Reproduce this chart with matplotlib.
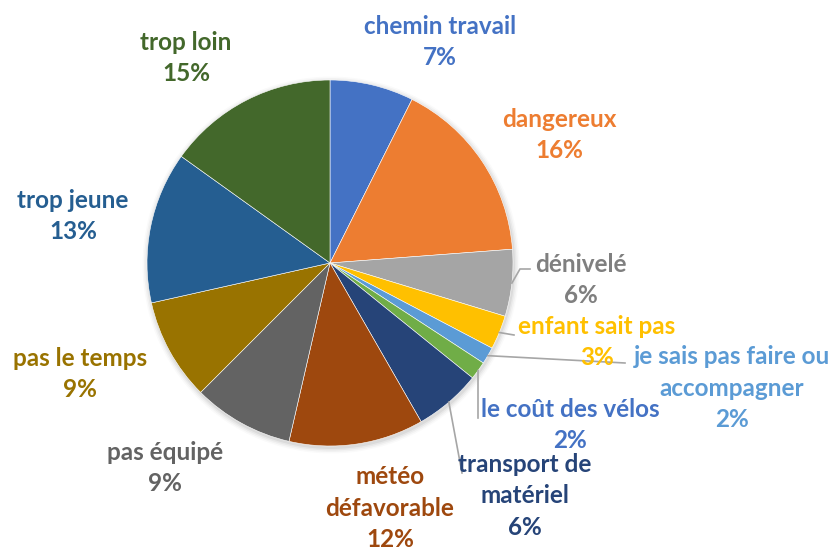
import numpy as np
import matplotlib.pyplot as plt
from matplotlib.patches import Circle

# data
labels = ['chemin travail', 'dangereux', 'dénivelé', 'enfant sait pas',
          'je sais pas faire ou\naccompagner', 'le coût des vélos',
          'transport de\nmatériel', 'météo\ndéfavorable', 'pas équipé',
          'pas le temps', 'trop jeune', 'trop loin']
values = [7.4, 16.4, 5.9, 3.0, 1.5, 1.6, 5.9, 11.9, 8.9, 9.0, 13.4, 15.1]
colors = ['#4472C4', '#ED7D31', '#A5A5A5', '#FFC000', '#5B9BD5', '#70AD47',
          '#264478', '#9E480E', '#636363', '#997300', '#255E91', '#43682B']
text_colors = ['#4472C4', '#ED7D31', '#7F7F7F', '#FFC000', '#5B9BD5', '#4472C4',
               '#264478', '#9E480E', '#636363', '#997300', '#255E91', '#43682B']

# layout in pixels measured from top-left
W, H = 837, 547
cx, cy, r = 330, 263, 183
label_pos = [(440, 42), (559, 135), (581, 280), (597, 342), (732, 388),
             (570, 425), (525, 496), (390, 508), (165, 468), (80, 374),
             (73, 216), (186, 58)]
# leader line points after the wedge edge (None = no line)
leaders = [None, None, [(520, 269), (530, 269)], [(514, 335)],
           [(625, 363)], [(478, 372), (478, 418)], [(462, 473)], None, None,
           None, None, None]

plt.rcParams['font.family'] = ['Lato', 'DejaVu Sans']

fig = plt.figure(figsize=(8.37, 5.47), dpi=100)
ax = fig.add_axes([0, 0, 1, 1])


def py(y):
    # flip pixel y to data y
    return H - y


# soft shadow
for i, a in enumerate([0.05, 0.04, 0.03, 0.02]):
    ax.add_patch(Circle((cx + 1, py(cy) - 2), r + 1 + i * 1.5, color='black',
                        alpha=a, lw=0, zorder=0))

wedges, _ = ax.pie(values, colors=colors, startangle=90, counterclock=False,
                   radius=r, center=(cx, py(cy)), frame=True,
                   wedgeprops=dict(edgecolor='white', linewidth=0.4))
ax.set_xlim(0, W)
ax.set_ylim(0, H)
ax.set_aspect('equal')
ax.axis('off')

total = sum(values)
for i, (lab, v) in enumerate(zip(labels, values)):
    x, y = label_pos[i]
    ax.text(x, py(y), f'{lab}\n{v / total * 100:.0f}%', ha='center', va='center',
            fontsize=17.5, fontweight='bold', color=text_colors[i],
            linespacing=1.45, zorder=5)
    if leaders[i] is not None:
        w = wedges[i]
        mid = np.deg2rad((w.theta1 + w.theta2) / 2)
        sx = cx + r * np.cos(mid)
        sy = py(cy) + r * np.sin(mid)
        pts = [(sx, sy)] + [(p[0], py(p[1])) for p in leaders[i]]
        ax.plot([p[0] for p in pts], [p[1] for p in pts], color='#A6A6A6',
                lw=1.2, zorder=4)

fig.savefig('out.png', dpi=100)
